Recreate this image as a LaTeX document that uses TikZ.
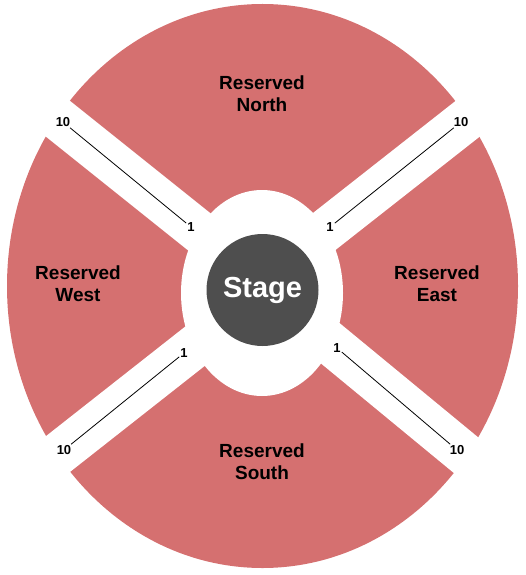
\documentclass[tikz,border=0pt]{standalone}
\usepackage{fontspec}
\setmainfont{Liberation Sans}
\begin{document}
\begin{tikzpicture}[x=1pt,y=-1pt,
  seat/.style={fill=secred,draw=none},
  aisle/.style={draw=white,line width=43pt,line cap=butt},
  seclabel/.style={align=center,font=\bfseries\fontsize{19}{22}\selectfont,text=black,inner sep=0pt},
  rownum/.style={font=\bfseries\fontsize{13}{13}\selectfont,inner sep=1pt},
  rowline/.style={draw=black,line width=0.8pt}]
\definecolor{secred}{RGB}{213,112,112}
\definecolor{stagegray}{RGB}{78,78,78}
\useasboundingbox (0,0) rectangle (525,575);
% outer seating ellipse
\fill[seat] (262.5,286) ellipse [x radius=255.5, y radius=282];
% aisles
\coordinate (cul) at (262,282);
\coordinate (cur) at (262,280.4);
\coordinate (cll) at (262,293.5);
\coordinate (clr) at (262,287);
\coordinate (oul) at (-50,32.4);
\coordinate (our) at (575,34.4);
\coordinate (oll) at (-50,539);
\coordinate (olr) at (575,545);
\draw[aisle] (cul) -- (oul);
\draw[aisle] (cur) -- (our);
\draw[aisle] (cll) -- (oll);
\draw[aisle] (clr) -- (olr);
% inner white ellipse
\fill[white] (262,293) ellipse [x radius=81, y radius=103];
% stage
\node[circle,fill=stagegray,minimum size=112pt,inner sep=0pt,text=white,
  font=\bfseries\fontsize{29}{29}\selectfont] (stage) at (262.5,290) {Stage};
% section labels
\node[seclabel] (north) at (262,94) {Reserved\\North};
\node[seclabel] (west) at (78,284) {Reserved\\West};
\node[seclabel] (east) at (437,284) {Reserved\\East};
\node[seclabel] (south) at (262,462) {Reserved\\South};
% row numbers
\node[rownum] (ul10) at (63,122) {10};
\node[rownum] (ul1) at (191,227) {1};
\node[rownum] (ur10) at (461,122) {10};
\node[rownum] (ur1) at (330,227) {1};
\node[rownum] (ll1) at (184,353) {1};
\node[rownum] (ll10) at (64,450) {10};
\node[rownum] (lr1) at (337,348) {1};
\node[rownum] (lr10) at (457,450) {10};
\draw[rowline] (ul10) -- (ul1);
\draw[rowline] (ur10) -- (ur1);
\draw[rowline] (ll1) -- (ll10);
\draw[rowline] (lr1) -- (lr10);
\end{tikzpicture}
\end{document}
